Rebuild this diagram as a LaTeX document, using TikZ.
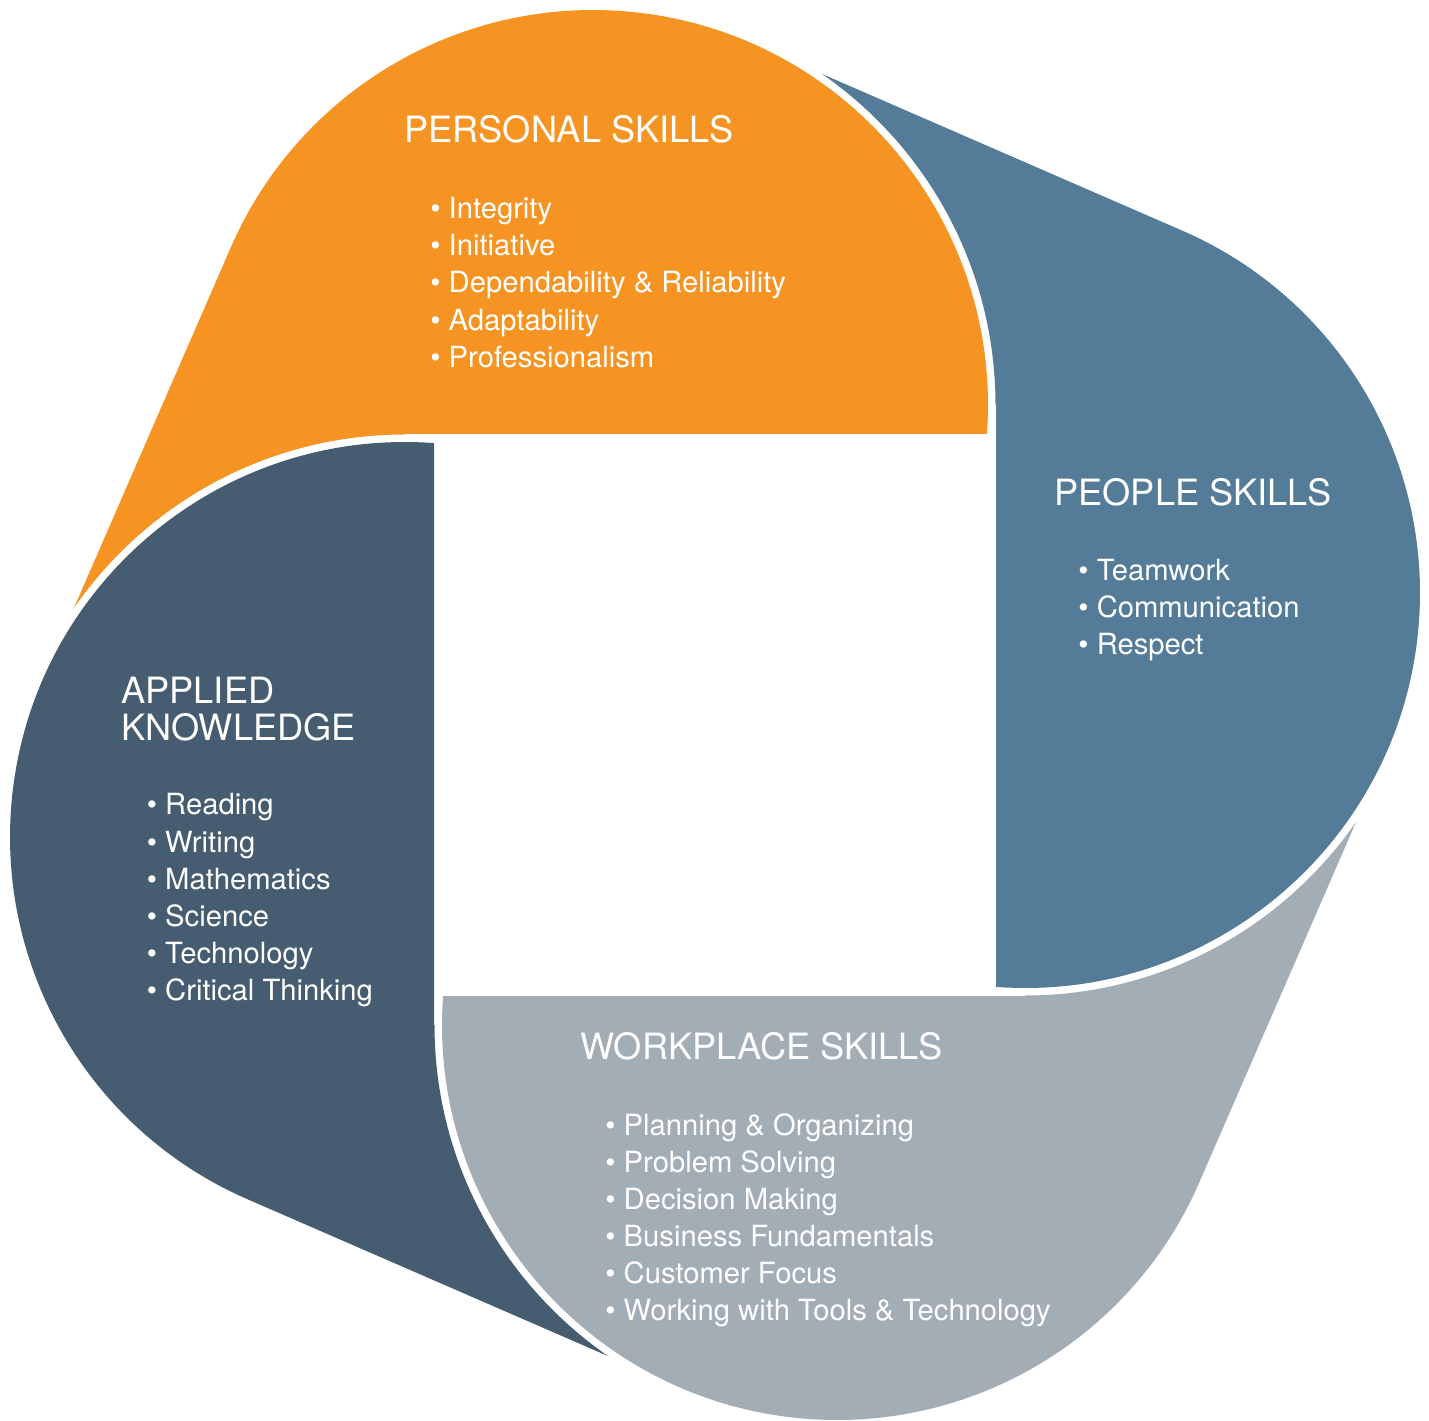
\documentclass[tikz,border=0pt]{standalone}
\usepackage{fontspec}
\setmainfont{TeX Gyre Heros}
\definecolor{cpersonal}{RGB}{246,148,35}
\definecolor{cpeople}{RGB}{84,124,152}
\definecolor{cworkplace}{RGB}{163,173,182}
\definecolor{capplied}{RGB}{70,92,112}
\tikzset{
  headtext/.style={text=white, inner sep=0pt, anchor=base west, font=\fontsize{18.1}{20}\selectfont},
  itemtext/.style={text=white, inner sep=0pt, anchor=base west, font=\fontsize{14.6}{17}\selectfont},
}
\begin{document}
\begin{tikzpicture}[x=0.5pt,y=0.5pt]
\useasboundingbox (0,0) rectangle (1429,1420);
\fill[white] (0,0) rectangle (1429,1420);
% four petals: the same shape rotated around the centre
\foreach \ang/\col in {0/cpersonal, -90/cpeople, 180/cworkplace, 90/capplied}{
  \begin{scope}[rotate around={\ang:(715,705)}, even odd rule]
    \clip (-900,-900) rectangle (2400,2400) (405,583) circle[radius=402.5];
    \fill[\col, nonzero rule] (986.9,986) arc[start angle=-4.21, end angle=156.5, radius=395]
      -- (43.3,741.5) -- (405,820) -- (405,986) -- cycle;
  \end{scope}
}
% PERSONAL SKILLS
\node[headtext] (pst) at (404,1277) {PERSONAL SKILLS};
\foreach \t [count=\i] in {Integrity, Initiative, Dependability \& Reliability, Adaptability, Professionalism}
  \node[itemtext] (ps\i) at (430,{1420-218.3-37.25*(\i-1)}) {• \t};
% PEOPLE SKILLS
\node[headtext] (pet) at (1054,914) {PEOPLE SKILLS};
\foreach \t [count=\i] in {Teamwork, Communication, Respect}
  \node[itemtext] (pe\i) at (1078,{1420-580.5-37.25*(\i-1)}) {• \t};
% APPLIED KNOWLEDGE
\node[headtext] (akt1) at (121,{1420-703.3}) {APPLIED};
\node[headtext] (akt2) at (121,{1420-741}) {KNOWLEDGE};
\foreach \t [count=\i] in {Reading, Writing, Mathematics, Science, Technology, Critical Thinking}
  \node[itemtext] (ak\i) at (146.5,{1420-815-37.15*(\i-1)}) {• \t};
% WORKPLACE SKILLS
\node[headtext] (wst) at (580,{1420-1059.3}) {WORKPLACE SKILLS};
\foreach \t [count=\i] in {Planning \& Organizing, Problem Solving, Decision Making, Business Fundamentals, Customer Focus, Working with Tools \& Technology}
  \node[itemtext] (ws\i) at (605,{1420-1135-37*(\i-1)}) {• \t};
\end{tikzpicture}
\end{document}
